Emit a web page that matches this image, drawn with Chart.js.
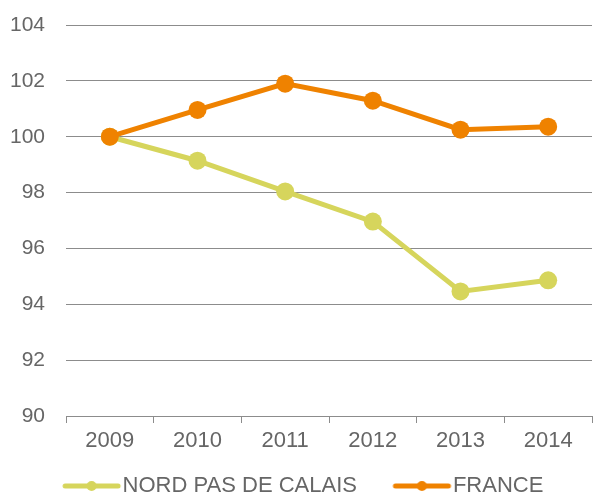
<!DOCTYPE html>
<html>
<head>
<meta charset="utf-8">
<script src="https://cdn.jsdelivr.net/npm/chart.js@4/dist/chart.umd.min.js"></script>
<style>
  html, body { margin: 0; padding: 0; background: #ffffff; }
  #wrap { width: 593px; height: 494px; position: relative; }
</style>
</head>
<body>
<div id="wrap"><canvas id="c" width="593" height="494"></canvas></div>
<script>
const categories = ['2009', '2010', '2011', '2012', '2013', '2014'];
const seriesNames = ['NORD PAS DE CALAIS', 'FRANCE'];
const nordValues = [100, 99.14, 98.04, 96.96, 94.46, 94.86];
const franceValues = [100, 100.96, 101.9, 101.29, 100.25, 100.36];
const yTicks = [90, 92, 94, 96, 98, 100, 102, 104];

const nordColor = '#D6D55C';
const franceColor = '#EF8200';
const textColor = '#666666';
const gridColor = '#8C8C8C';
const fontFamily = '"Liberation Sans", Arial, sans-serif';

function legendMarker(color) {
  const c = document.createElement('canvas');
  c.width = 84; c.height = 12;
  const x = c.getContext('2d');
  x.strokeStyle = color;
  x.lineWidth = 5;
  x.lineCap = 'round';
  x.beginPath(); x.moveTo(27, 6); x.lineTo(80, 6); x.stroke();
  x.fillStyle = color;
  x.beginPath(); x.arc(53.5, 6, 5, 0, Math.PI * 2); x.fill();
  return c;
}
const markers = [legendMarker(nordColor), legendMarker(franceColor)];

new Chart(document.getElementById('c'), {
  type: 'line',
  data: {
    labels: categories,
    datasets: [
      {
        label: seriesNames[0], data: nordValues, order: 1,
        borderColor: nordColor, backgroundColor: nordColor,
        borderWidth: 5, pointRadius: 9, pointBackgroundColor: nordColor,
        pointBorderWidth: 0, tension: 0, fill: false
      },
      {
        label: seriesNames[1], data: franceValues, order: 0,
        borderColor: franceColor, backgroundColor: franceColor,
        borderWidth: 5, pointRadius: 9, pointBackgroundColor: franceColor,
        pointBorderWidth: 0, tension: 0, fill: false
      }
    ]
  },
  options: {
    responsive: false,
    animation: false,
    devicePixelRatio: 1,
    layout: { autoPadding: false, padding: { left: 0, right: 1, top: 25, bottom: -13 } },
    plugins: {
      tooltip: { enabled: false },
      legend: {
        position: 'bottom',
        labels: {
          usePointStyle: true,
          pointStyleWidth: 63,
          padding: 22,
          color: textColor,
          font: { family: fontFamily, size: 22 },
          sort: (a, b) => a.datasetIndex - b.datasetIndex,
          generateLabels: (chart) => {
            const items = Chart.defaults.plugins.legend.labels.generateLabels(chart);
            items.forEach(it => { it.pointStyle = markers[it.datasetIndex]; });
            return items;
          }
        }
      }
    },
    scales: {
      x: {
        offset: true,
        afterFit: (scale) => { scale.height = 37; scale.paddingLeft = 0; scale.paddingRight = 0; },
        grid: { offset: true, drawOnChartArea: false, drawTicks: true, tickLength: 7, color: gridColor },
        border: { display: true, color: gridColor, width: 1 },
        ticks: { color: textColor, font: { family: fontFamily, size: 22 }, padding: 5, maxRotation: 0 }
      },
      y: {
        min: 90, max: 104,
        afterBuildTicks: (scale) => { scale.ticks = yTicks.map(v => ({ value: v })); },
        afterFit: (scale) => { scale.width = 66; scale.paddingTop = 0; scale.paddingBottom = 0; },
        grid: { drawTicks: false, color: gridColor, lineWidth: 1 },
        border: { display: false },
        ticks: { color: textColor, font: { family: fontFamily, size: 21 }, padding: 21 }
      }
    }
  }
});
</script>
</body>
</html>
